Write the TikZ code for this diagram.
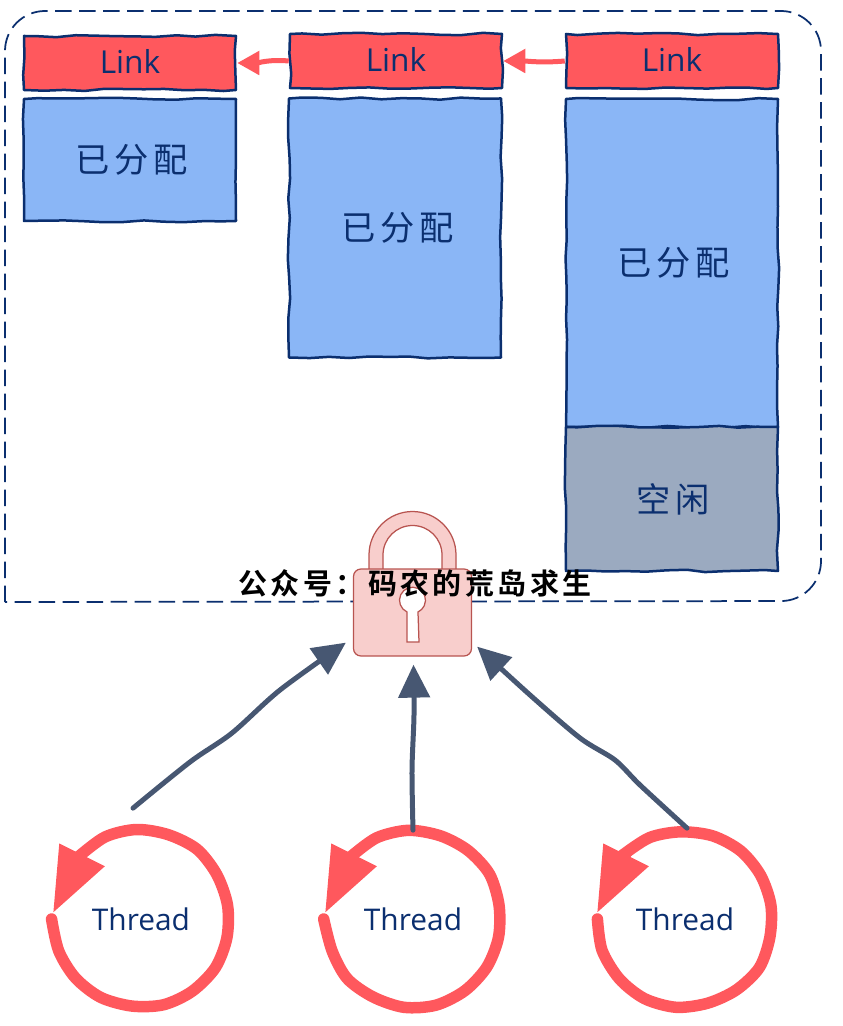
\documentclass[tikz,border=0pt]{standalone}
\usepackage{fontspec}
\usetikzlibrary{arrows.meta, calc, decorations.pathmorphing}
\setmainfont{Open Sans}
\newfontfamily\cjk[LetterSpace=14]{Noto Sans CJK SC}
\newfontfamily\cjkbold[LetterSpace=12]{Noto Sans CJK SC Bold}
\definecolor{inkblue}{HTML}{0B2F6F}
\definecolor{linkred}{HTML}{FF585D}
\definecolor{usedblue}{HTML}{8AB6F6}
\definecolor{freegray}{HTML}{9BAAC0}
\definecolor{arrowgray}{HTML}{475772}
\definecolor{lockfill}{HTML}{F8CECC}
\definecolor{lockline}{HTML}{B85450}
\def\U{0.02cm} % one reference pixel
\tikzset{
    sketchbox/.style={draw=inkblue, line width=0.05cm, line join=round,
        decorate, decoration={random steps, segment length=0.4cm, amplitude=0.025cm},
        inner sep=0pt, text=inkblue},
    linkbox/.style={sketchbox, fill=linkred, minimum width=212*\U, minimum height=54*\U, text depth=0.06cm, font=\fontsize{18}{20}\selectfont},
    usedbox/.style={sketchbox, fill=usedblue, minimum width=212*\U, font=\fontsize{19.5}{22}\cjk},
    freebox/.style={sketchbox, fill=freegray, minimum width=212*\U, font=\fontsize{19.5}{22}\cjk},
    threadnode/.style={circle, minimum size=177*\U, inner sep=0pt, text=inkblue, font=\fontsize{17}{20}\selectfont},
    threadring/.style={draw=linkred, line width=0.23cm, line cap=round},
    ringtip/.style={draw=linkred, line width=0.2cm, -{Triangle[length=1.3cm, width=0.96cm]}},
    linkarrow/.style={draw=linkred, line width=0.1cm, -{Triangle[length=0.44cm, width=0.46cm]}},
    lockarrow/.style={draw=arrowgray, line width=0.1cm, line cap=round, -{Triangle[length=0.66cm, width=0.62cm]}},
    lockpart/.style={draw=lockline, fill=lockfill, line width=0.025cm}
}
\begin{document}
\begin{tikzpicture}[x=\U, y=\U]
    \pgfmathsetseed{42}
    \useasboundingbox (0,0) rectangle (842,-1026);

    % Dashed outline
    \draw[inkblue, dashed, dash pattern=on 0.33cm off 0.15cm, line width=0.035cm]
        (5,-602) [rounded corners=0.8cm] -- (5,-11) -- (821,-11) -- (821,-601) -- (5,-602);

    % Links and blocks
    \node[linkbox] (link1) at (130,-63) {Link};
    \node[linkbox] (link2) at (396,-61) {Link};
    \node[linkbox] (link3) at (672,-61) {Link};

    \node[usedbox, minimum height=122*\U] (used1) at (130,-160) {\hspace{0.05cm}已分配};
    \node[usedbox, minimum height=259*\U] (used2) at (395,-228) {\hspace{0.1cm}已分配};
    \node[usedbox, minimum height=328*\U] (used3) at (672,-263) {\hspace{0.07cm}已分配};
    \node[freebox, minimum height=144*\U] (free1) at (672,-499) {\hspace{0.05cm}空闲};

    \draw[linkarrow] (link2.west) to[out=175, in=0] (link1.east);
    \draw[linkarrow] (link3.west) to[out=185, in=0] (link2.east);

    % Lock
    \draw[lockpart] (369,-570) -- (369,-555) arc[start angle=180, end angle=0, radius=43.5] -- (456,-570)
        -- (442,-570) -- (442,-555) arc[start angle=0, end angle=180, radius=29.5] -- (383,-570) -- cycle;
    \node[lockpart, rounded corners=0.15cm, minimum width=118*\U, minimum height=87*\U, inner sep=0pt] (lock) at (412.5,-612.5) {};
    \draw[lockline, fill=white, line width=0.025cm] (407,-612) arc[start angle=245, end angle=-65, radius=13] -- (419,-642) -- (407,-642) -- cycle;
    \node[font=\fontsize{16.5}{18}\cjkbold, text=black, inner sep=0pt] (title) at (415,-583) {公众号\char"FF1A 码农的荒岛求生};

    % Threads
    \foreach \i/\p in {1/141, 2/413, 3/685} {
        \node[threadnode] (thread\i) at (\p,-919) {Thread};
        \draw[threadring, shift={(thread\i)}] plot[smooth, variable=\a, domain=180:495, samples=16]
            ({(88+1.5*rand)*cos(\a)}, {(88.5+1.5*rand)*sin(\a)});
        \coordinate (tipstart\i) at ($(thread\i)+(-58,66)$);
        \coordinate (tipend\i) at ($(thread\i)+(-88,6)$);
        \draw[ringtip] (tipstart\i) -- (tipend\i);
    }

    % Arrows to the lock
    \coordinate (from1) at ($(thread1.north)+(-8,22)$);
    \coordinate (from3) at ($(thread3.north)+(2,2)$);
    \coordinate (lockL) at ($(lock.south west)+(-7,14)$);
    \coordinate (lockM) at ($(lock.south)+(1,-8)$);
    \coordinate (lockR) at ($(lock.south east)+(5,10)$);
    \draw[lockarrow] plot[smooth] coordinates {(from1) (190,-762) (232,-733) (280,-690) (lockL)};
    \draw[lockarrow] plot[smooth] coordinates {(thread2.north) (412,-770) (414,-715) (lockM)};
    \draw[lockarrow] plot[smooth] coordinates {(from3) (640,-785) (615,-760) (580,-738) (530,-695) (lockR)};
\end{tikzpicture}
\end{document}
